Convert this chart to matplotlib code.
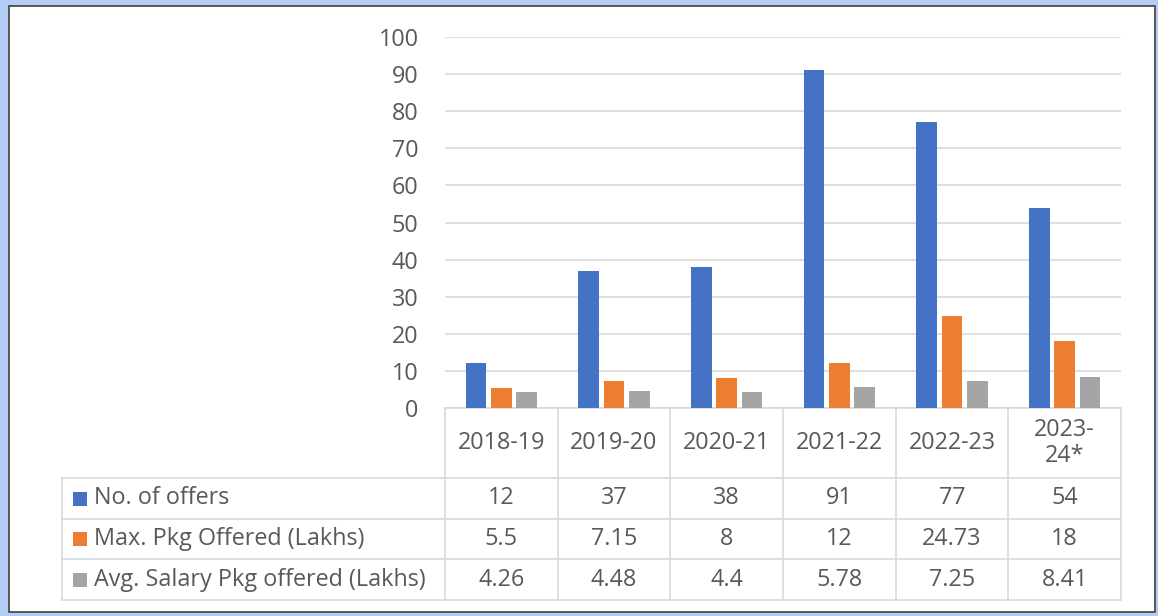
import matplotlib.pyplot as plt
from matplotlib.patches import Rectangle
from matplotlib.lines import Line2D
import numpy as np

years = ["2018-19", "2019-20", "2020-21", "2021-22", "2022-23", "2023-\n24*"]
offers = [12, 37, 38, 91, 77, 54]
max_pkg = [5.5, 7.15, 8, 12, 24.73, 18]
avg_pkg = [4.26, 4.48, 4.4, 5.78, 7.25, 8.41]
offers_txt = ["12", "37", "38", "91", "77", "54"]
max_txt = ["5.5", "7.15", "8", "12", "24.73", "18"]
avg_txt = ["4.26", "4.48", "4.4", "5.78", "7.25", "8.41"]
series_names = ["No. of offers", "Max. Pkg Offered (Lakhs)", "Avg. Salary Pkg offered (Lakhs)"]
colors = ["#4472C4", "#ED7D31", "#A5A5A5"]

plt.rcParams['font.family'] = ['Open Sans', 'DejaVu Sans']
txt_col = "#595959"
grid_col = "#D9D9D9"
fs = 16.8

W, H = 1158, 616
fig = plt.figure(figsize=(W / 100, H / 100), dpi=100)

def fx(px):
    return px / W

def fy(py):
    return 1 - py / H

# outer frame: blue glow + dark line
fig.patches.append(Rectangle((0, 0), 1, 1, transform=fig.transFigure,
                             facecolor="#B4CDF7", edgecolor="none", zorder=-2))
fig.patches.append(Rectangle((fx(9), fy(612)), fx(1155) - fx(9), fy(6) - fy(612),
                             transform=fig.transFigure, facecolor="white",
                             edgecolor="#404040", linewidth=1.2, zorder=-1))

x0, x1 = 445, 1121
ytop, ybot = 37, 408
ax = fig.add_axes([fx(x0), fy(ybot), fx(x1) - fx(x0), fy(ytop) - fy(ybot)])
ax.set_facecolor("none")
ax.set_zorder(2)

n = len(years)
x = np.arange(n)
bw = 0.185
step = 0.225
for i, (vals, c) in enumerate(zip([offers, max_pkg, avg_pkg], colors)):
    ax.bar(x + (i - 1) * step, vals, width=bw, color=c, zorder=3)

ax.set_xlim(-0.5, n - 0.5)
ax.set_ylim(0, 100)
ax.set_yticks(range(0, 101, 10))
ax.yaxis.grid(True, color=grid_col, linewidth=1.2, zorder=0)
ax.set_xticks([])
ax.tick_params(axis='y', length=0, labelsize=fs, labelcolor=txt_col, pad=19)
for s in ax.spines.values():
    s.set_visible(False)

# data table
tl = 62
col_w = (x1 - x0) / n
row_y = [408, 478, 519, 559, 600]
lw = 1.2

def hline(px0, px1, py):
    fig.add_artist(Line2D([fx(px0), fx(px1)], [fy(py), fy(py)], color=grid_col, linewidth=lw))

def vline(px, py0, py1):
    fig.add_artist(Line2D([fx(px), fx(px)], [fy(py0), fy(py1)], color=grid_col, linewidth=lw))

hline(x0, x1, row_y[0])
for py in row_y[1:]:
    hline(tl, x1, py)
vline(tl, row_y[1], row_y[4])
for j in range(n + 1):
    vline(x0 + j * col_w, row_y[0], row_y[4])

for j, yr in enumerate(years):
    cx = x0 + (j + 0.5) * col_w
    fig.text(fx(cx), fy((row_y[0] + row_y[1]) / 2), yr, ha="center", va="center",
             fontsize=fs, color=txt_col, linespacing=1.15)

rows = [offers_txt, max_txt, avg_txt]
for r, (name, c, vals) in enumerate(zip(series_names, colors, rows)):
    cy = (row_y[r + 1] + row_y[r + 2]) / 2
    fig.patches.append(Rectangle((fx(73), fy(cy + 7)), fx(14), fy(0) - fy(14),
                                 transform=fig.transFigure, facecolor=c, edgecolor="none"))
    fig.text(fx(94), fy(cy), name, ha="left", va="center", fontsize=fs, color=txt_col)
    for j, v in enumerate(vals):
        cx = x0 + (j + 0.5) * col_w
        fig.text(fx(cx), fy(cy), v, ha="center", va="center", fontsize=fs, color=txt_col)

fig.savefig("out.png", dpi=100)
